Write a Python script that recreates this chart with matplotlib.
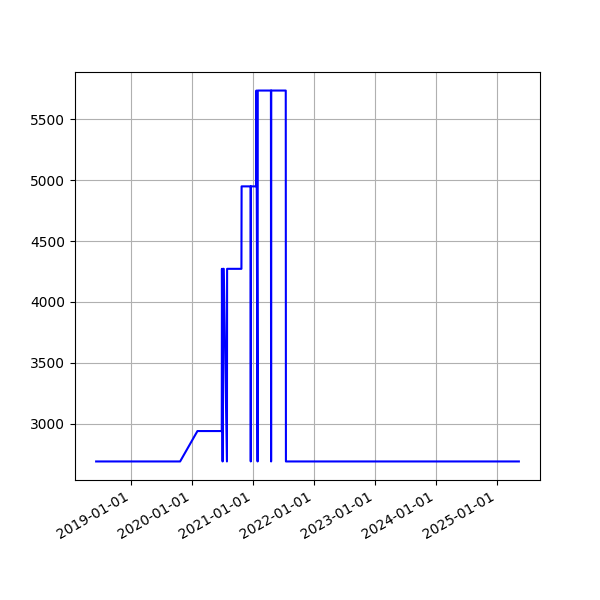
import matplotlib
matplotlib.use("Agg")
import matplotlib.pyplot as plt
import matplotlib.dates as mdates
import pandas as pd

dates = [
    "2018-06-04", "2019-10-21", "2020-02-02", "2020-06-27", "2020-06-28",
    "2020-07-02", "2020-07-04", "2020-07-09", "2020-07-28", "2020-07-29",
    "2020-10-23", "2020-10-24", "2020-12-17", "2020-12-18", "2020-12-19",
    "2021-01-20", "2021-01-21", "2021-01-28", "2021-01-29", "2021-04-18",
    "2021-04-19", "2021-04-20", "2021-07-16", "2021-07-17", "2025-05-15",
]
values = [
    2688, 2688, 2938, 2938, 4272,
    2688, 4272, 4272, 2688, 4272,
    4272, 4950, 4950, 2688, 4950,
    4950, 5738, 2688, 5738, 5738,
    2688, 5738, 5738, 2688, 2688,
]

x = pd.to_datetime(dates)

fig, ax = plt.subplots(figsize=(6, 6), dpi=100)
ax.plot(x, values, color="blue")
ax.xaxis.set_major_locator(mdates.YearLocator())
ax.xaxis.set_major_formatter(mdates.DateFormatter("%Y-%m-%d"))
ax.grid(True)
fig.autofmt_xdate()
fig.savefig("out.png", dpi=100)
